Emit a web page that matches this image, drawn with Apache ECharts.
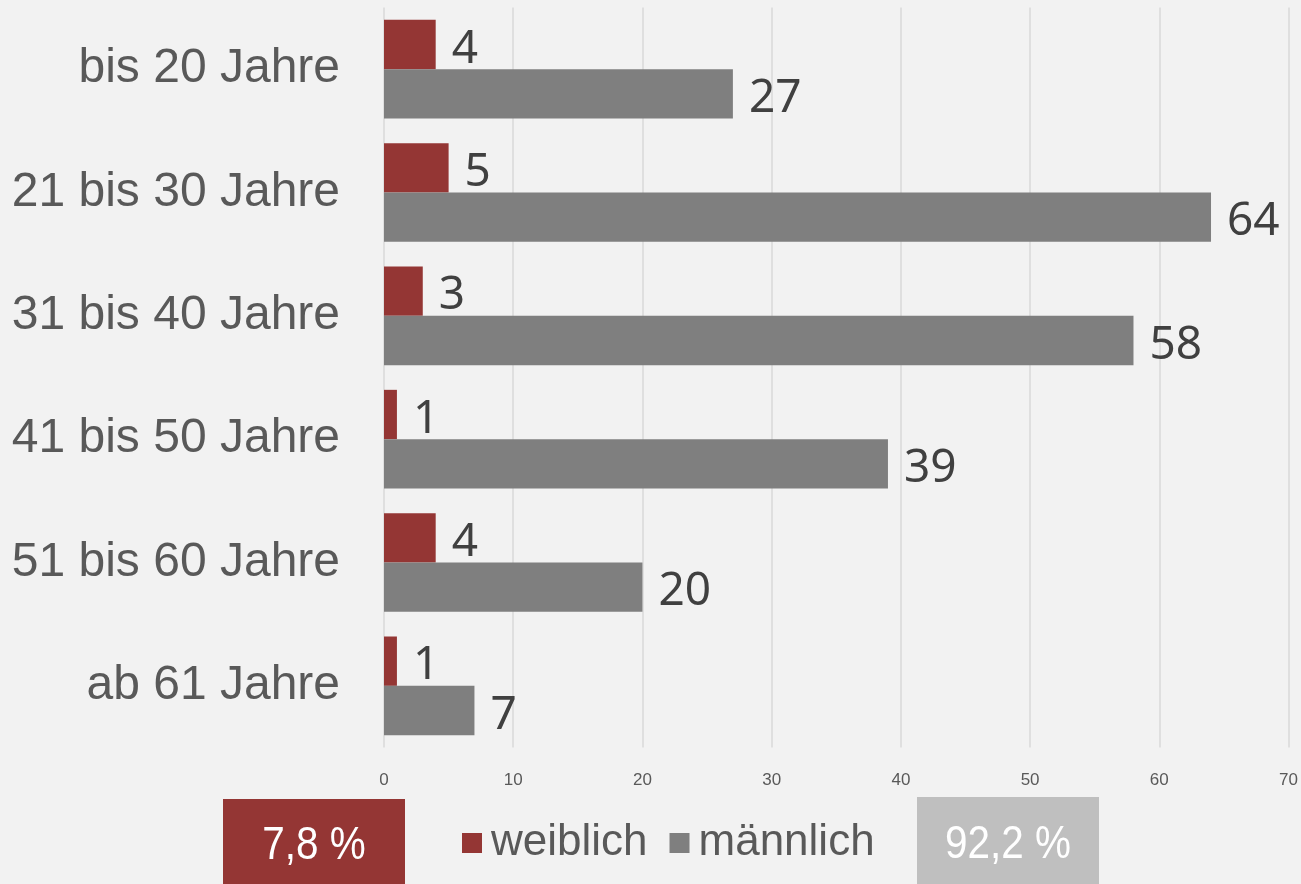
<!DOCTYPE html>
<html>
<head>
<meta charset="utf-8">
<script src="https://cdn.jsdelivr.net/npm/echarts@6/dist/echarts.min.js"></script>
<style>
html,body{margin:0;padding:0;background:#f2f2f2;}
#chart{width:1301px;height:884px;}
</style>
</head>
<body>
<div id="chart"></div>
<script>
var kategorien=['bis 20 Jahre','21 bis 30 Jahre','31 bis 40 Jahre','41 bis 50 Jahre','51 bis 60 Jahre','ab 61 Jahre'];
var weiblich=[4,5,3,1,4,1];
var maennlich=[27,64,58,39,20,7];
var achseTicks=[0,10,20,30,40,50,60,70];
var anteile=['7,8 %','92,2 %'];

var c=echarts.init(document.getElementById('chart'));
var labelStil={show:true,position:'right',distance:16,offset:[0,5],fontSize:46,color:'#404040',fontFamily:'Noto Sans'};
var option={
	backgroundColor:'#f2f2f2',
	animation:false,
	grid:{left:384,right:11,top:7.5,bottom:136.5},
	legend:{
		data:['weiblich','männlich'],
		left:457,top:816,
		icon:'rect',itemWidth:20,itemHeight:20,itemGap:22,
		textStyle:{fontSize:44,color:'#595959',fontFamily:'Liberation Sans',padding:[0,0,0,4]}
	},
	xAxis:{
		type:'value',min:achseTicks[0],max:achseTicks[achseTicks.length-1],interval:10,
		axisLine:{show:false},axisTick:{show:false},
		axisLabel:{margin:24,fontSize:17,color:'#595959',fontFamily:'Liberation Sans'},
		splitLine:{show:true,lineStyle:{color:'#d9d9d9',width:1.5}}
	},
	yAxis:{
		type:'category',data:kategorien,inverse:true,
		axisLine:{show:false},axisTick:{show:false},
		axisLabel:{margin:44,fontSize:48,color:'#595959',fontFamily:'Liberation Sans',padding:[5,0,0,0]}
	},
	series:[{
		name:'weiblich',type:'bar',data:weiblich,
		barGap:'0%',barCategoryGap:'20%',
		itemStyle:{color:'#943634'},
		label:labelStil
	},{
		name:'männlich',type:'bar',data:maennlich,
		itemStyle:{color:'#7f7f7f'},
		label:labelStil
	}],
	graphic:[{
		type:'rect',left:223,top:799,shape:{width:182,height:85},style:{fill:'#943634'}
	},{
		type:'text',x:314,y:846,scaleX:0.88,style:{text:anteile[0],fill:'#fff',fontSize:46,fontFamily:'Liberation Sans',align:'center',verticalAlign:'middle'}
	},{
		type:'rect',left:917,top:797,shape:{width:182,height:87},style:{fill:'#bfbfbf'}
	},{
		type:'text',x:1008,y:845,scaleX:0.88,style:{text:anteile[1],fill:'#fff',fontSize:46,fontFamily:'Liberation Sans',align:'center',verticalAlign:'middle'}
	}]
};
c.setOption(option);
window.addEventListener('resize',function(){c.resize();});
</script>
</body>
</html>
